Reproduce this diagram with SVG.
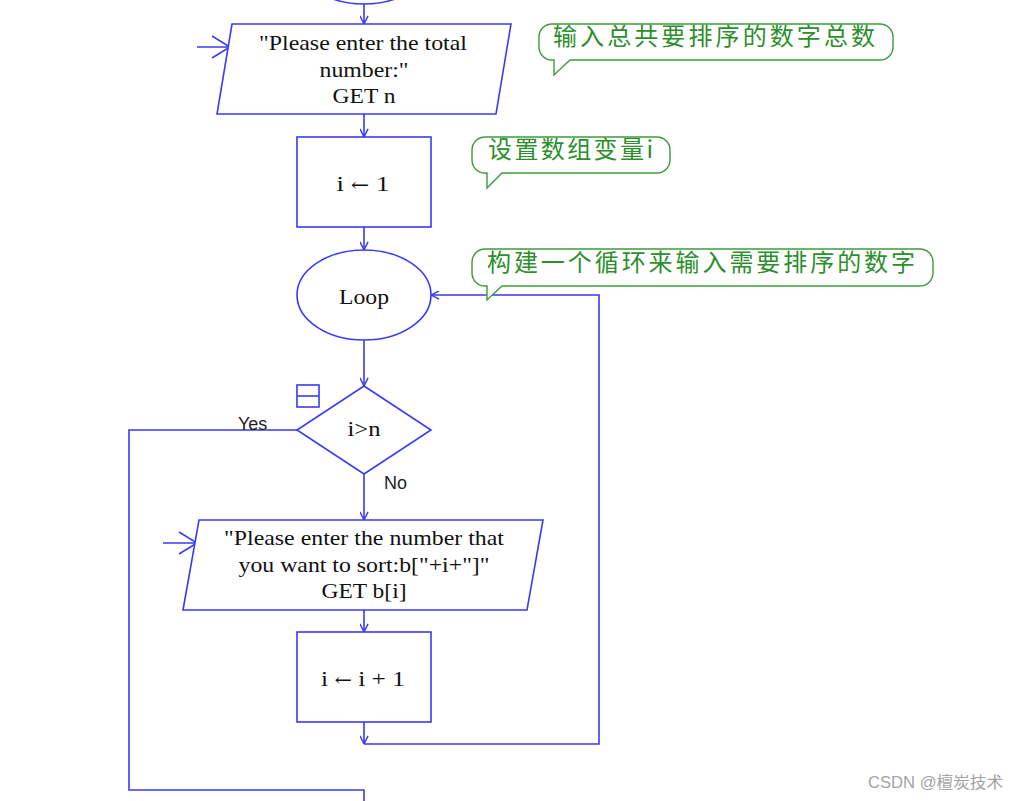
<svg xmlns="http://www.w3.org/2000/svg" width="1020" height="801" viewBox="0 0 1020 801">
<style>
.sh{fill:#fff;stroke:#3a3af5;stroke-width:1.6}
.ln{fill:none;stroke:#3a3af5;stroke-width:1.6}
.t{font-family:"Liberation Serif","Times New Roman",serif;font-size:22px;fill:#111;text-anchor:middle}
.ar{font-family:"DejaVu Serif",serif;font-size:18px}
.lb{font-family:"Liberation Sans",Arial,sans-serif;font-size:18px;fill:#222}
.co{fill:#fff;stroke:#3d9a3d;stroke-width:1.4}
.ct{font-family:"Noto Sans CJK SC","Noto Sans",sans-serif;font-size:24px;fill:#2b8f2b}
.wm{font-family:"Liberation Sans","Noto Sans CJK SC",sans-serif;font-size:16px;fill:#a3a3a3}
</style>
<defs>
<marker id="ah" viewBox="0 0 10 10" refX="10" refY="5" markerWidth="9" markerHeight="9" markerUnits="userSpaceOnUse" orient="auto">
<path d="M1,0.5 L10,5 L1,9.5" fill="none" stroke="#3a3af5" stroke-width="1.6"/>
</marker>
<marker id="big" viewBox="0 0 20 24" refX="19" refY="12" markerWidth="20" markerHeight="24" markerUnits="userSpaceOnUse" orient="auto">
<path d="M1,1 L19,12 L1,23" fill="none" stroke="#3a3af5" stroke-width="1.6"/>
</marker>
</defs>
<rect width="1020" height="801" fill="#fff"/>

<g id="connectors">
<line class="ln" x1="364" y1="4" x2="364" y2="24" marker-end="url(#ah)"/>
<line class="ln" x1="197" y1="47" x2="230" y2="47" marker-end="url(#big)"/>
<line class="ln" x1="364" y1="114" x2="364" y2="137" marker-end="url(#ah)"/>
<line class="ln" x1="364" y1="227" x2="364" y2="250" marker-end="url(#ah)"/>
<line class="ln" x1="364" y1="340" x2="364" y2="386" marker-end="url(#ah)"/>
<polyline class="ln" points="297,430 129,430 129,790 364,790 364,801"/>
<line class="ln" x1="364" y1="474" x2="364" y2="520" marker-end="url(#ah)"/>
<line class="ln" x1="163" y1="543" x2="197" y2="543" marker-end="url(#big)"/>
<line class="ln" x1="364" y1="610" x2="364" y2="632" marker-end="url(#ah)"/>
<line class="ln" x1="364" y1="722" x2="364" y2="744" marker-end="url(#ah)"/>
<polyline class="ln" points="364,744 599,744 599,295 431,295" marker-end="url(#ah)"/>
<text class="lb" x="238" y="430">Yes</text>
<text class="lb" x="384" y="489">No</text>
</g>

<g id="start">
<ellipse class="sh" cx="364" cy="-41" rx="67" ry="45"/>
</g>

<g id="input-n">
<polygon class="sh" points="232,24 511,24 496,114 217,114"/>
<text class="t" x="363" y="50" textLength="208" lengthAdjust="spacingAndGlyphs">"Please enter the total</text>
<text class="t" x="364" y="77" textLength="89" lengthAdjust="spacingAndGlyphs">number:"</text>
<text class="t" x="364" y="103" textLength="63" lengthAdjust="spacingAndGlyphs">GET n</text>
</g>

<g id="assign-i">
<rect class="sh" x="297" y="137" width="134" height="90"/>
<text class="t" x="363" y="191" textLength="53" lengthAdjust="spacingAndGlyphs">i <tspan class="ar">←</tspan> 1</text>
</g>

<g id="loop">
<ellipse class="sh" cx="364" cy="295" rx="67" ry="45"/>
<text class="t" x="364" y="304" textLength="50" lengthAdjust="spacingAndGlyphs">Loop</text>
</g>

<g id="decision">
<polygon class="sh" points="364,386 431,430 364,474 297,430"/>
<text class="t" x="364" y="436" textLength="33" lengthAdjust="spacingAndGlyphs">i&gt;n</text>
<rect class="ln" x="297" y="385" width="22" height="22"/>
<line class="ln" x1="297" y1="396" x2="319" y2="396"/>
</g>

<g id="input-b">
<polygon class="sh" points="199,520 543,520 527,610 183,610"/>
<text class="t" x="364" y="545" textLength="280" lengthAdjust="spacingAndGlyphs">"Please enter the number that</text>
<text class="t" x="364" y="572" textLength="251" lengthAdjust="spacingAndGlyphs">you want to sort:b["+i+"]"</text>
<text class="t" x="364" y="598" textLength="85" lengthAdjust="spacingAndGlyphs">GET b[i]</text>
</g>

<g id="increment">
<rect class="sh" x="297" y="632" width="134" height="90"/>
<text class="t" x="363" y="686" textLength="84" lengthAdjust="spacingAndGlyphs">i <tspan class="ar">←</tspan> i + 1</text>
</g>

<g id="note1">
<path class="co" d="M552,24 H880 A13,13 0 0 1 893,37 V47 A13,13 0 0 1 880,60 H570 L554,75 V60 H552 A13,13 0 0 1 539,47 V37 A13,13 0 0 1 552,24 Z"/>
<text class="ct" x="553" y="45" textLength="322" lengthAdjust="spacing">输入总共要排序的数字总数</text>
</g>

<g id="note2">
<path class="co" d="M485,137 H657 A13,13 0 0 1 670,150 V160 A13,13 0 0 1 657,173 H502 L487,188 V173 H485 A13,13 0 0 1 472,160 V150 A13,13 0 0 1 485,137 Z"/>
<text class="ct" x="488" y="158" textLength="165" lengthAdjust="spacing">设置数组变量i</text>
</g>

<g id="note3">
<path class="co" d="M485,249 H920 A13,13 0 0 1 933,262 V273 A13,13 0 0 1 920,286 H502 L487,300 V286 H485 A13,13 0 0 1 472,273 V262 A13,13 0 0 1 485,249 Z"/>
<text class="ct" x="487" y="271" textLength="428" lengthAdjust="spacing">构建一个循环来输入需要排序的数字</text>
</g>

<text class="wm" x="868" y="788" textLength="135" lengthAdjust="spacingAndGlyphs">CSDN @檀炭技术</text>
</svg>
